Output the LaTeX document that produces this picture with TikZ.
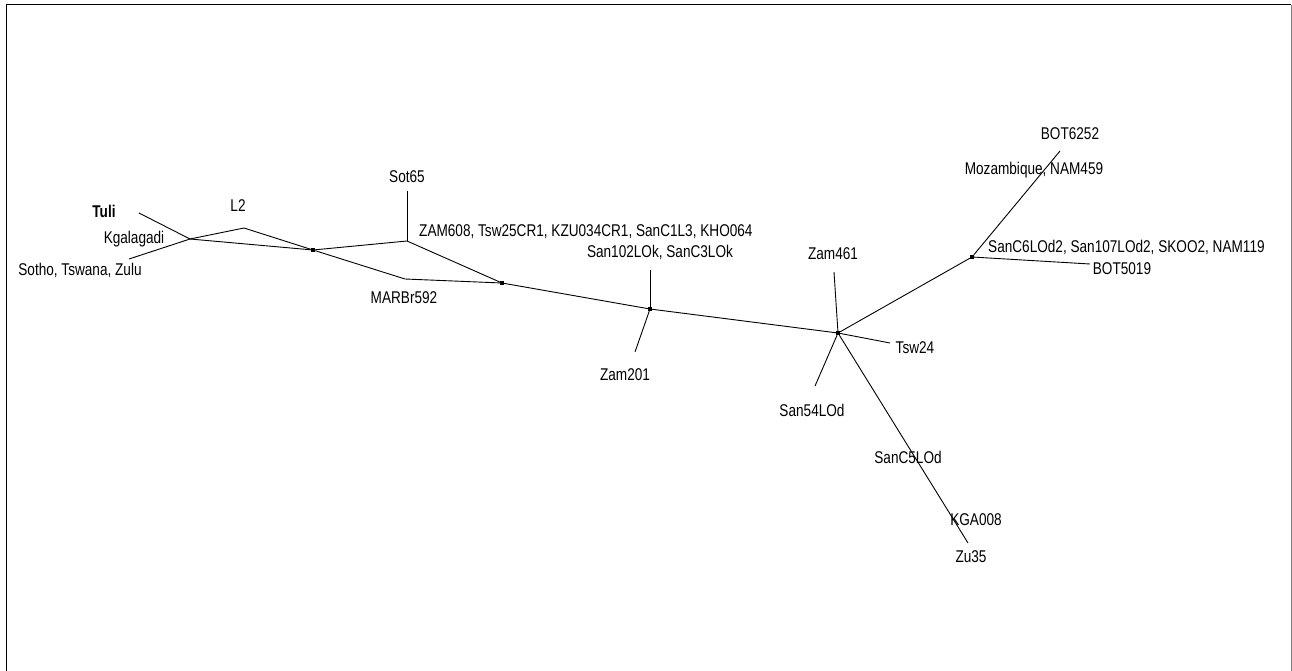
\documentclass[tikz,border=0pt]{standalone}
\usepackage{fontspec}
\setmainfont[FakeStretch=0.8]{Liberation Sans}
\begin{document}
\begin{tikzpicture}[x=1pt,y=-1pt,
  lbl/.style={font=\fontsize{17}{19}\selectfont, inner sep=0pt},
  hub/.style={fill=black, rectangle, minimum size=4pt, inner sep=0pt},
  edge/.style={line width=0.9pt}]
\useasboundingbox (0,0) rectangle (1292,671);
\draw[line width=1pt] (6,671) -- (6,5) -- (1291,5);
\draw[gray, line width=1pt] (1291,5) -- (1291,671);

% internal points
\coordinate (j1) at (190,239);
\coordinate (l2) at (244,228);
\node[hub] (j2) at (313,250) {};
\coordinate (sot) at (407,241);
\coordinate (mar) at (405,279);
\node[hub] (j3) at (502,283) {};
\node[hub] (j4) at (650,309) {};
\node[hub] (j5) at (838,333) {};
\node[hub] (j6) at (972,257) {};

% leaf ends
\coordinate (tuliE) at (139,213);
\coordinate (sothoE) at (129,259);
\coordinate (sotE) at (407,191);
\coordinate (sanE) at (650,270);
\coordinate (zam201E) at (635,352);
\coordinate (zam461E) at (834,272);
\coordinate (tsw24E) at (890,343);
\coordinate (san54E) at (815,386);
\coordinate (zu35E) at (968,543);
\coordinate (botAE) at (1060,151);
\coordinate (botBE) at (1090,264);

% edges
\draw[edge] (tuliE) -- (j1);
\draw[edge] (sothoE) -- (j1);
\draw[edge] (j1) -- (l2) -- (j2);
\draw[edge] (j1) -- (j2);
\draw[edge] (j2) -- (sot) -- (j3);
\draw[edge] (j2) -- (mar) -- (j3);
\draw[edge] (sot) -- (sotE);
\draw[edge] (j3) -- (j4);
\draw[edge] (j4) -- (j5);
\draw[edge] (j5) -- (j6);
\draw[edge] (j4) -- (sanE);
\draw[edge] (j4) -- (zam201E);
\draw[edge] (j5) -- (zam461E);
\draw[edge] (j5) -- (tsw24E);
\draw[edge] (j5) -- (san54E);
\draw[edge] (j5) -- (zu35E);
\draw[edge] (j6) -- (botAE);
\draw[edge] (j6) -- (botBE);

% labels
\node[lbl, font=\fontsize{17}{19}\selectfont\bfseries] (tuli) at (104,211) {Tuli};
\node[lbl] (kgal) at (134,239) {Kgalagadi};
\node[lbl] (sotho) at (80,270) {Sotho, Tswana, Zulu};
\node[lbl] (l2lbl) at (238,206) {L2};
\node[lbl] (sot65) at (407,177) {Sot65};
\node[lbl] (marbr) at (404,298) {MARBr592};
\node[lbl, anchor=west] (zam608) at (419,232) {ZAM608, Tsw25CR1, KZU034CR1, SanC1L3, KHO064};
\node[lbl] (san102) at (660,252) {San102LOk, SanC3LOk};
\node[lbl] (zam201) at (625,375) {Zam201};
\node[lbl] (zam461) at (833,254) {Zam461};
\node[lbl] (tsw24) at (915,348) {Tsw24};
\node[lbl] (san54) at (812,410) {San54LOd};
\node[lbl] (sanc5) at (908,457) {SanC5LOd};
\node[lbl] (kga) at (976,520) {KGA008};
\node[lbl] (zu35) at (971,557) {Zu35};
\node[lbl] (bot6252) at (1070,134) {BOT6252};
\node[lbl] (moz) at (1034,170) {Mozambique, NAM459};
\node[lbl, anchor=west] (sanc6) at (988,247) {SanC6LOd2, San107LOd2, SKOO2, NAM119};
\node[lbl] (bot5019) at (1122,269) {BOT5019};
\end{tikzpicture}
\end{document}
